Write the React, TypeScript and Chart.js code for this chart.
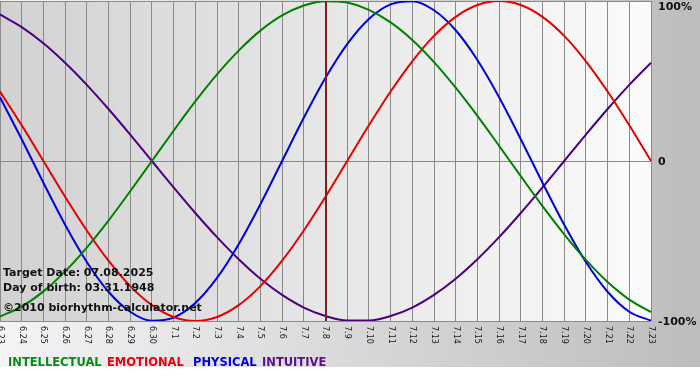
import { useEffect, useRef } from "react";
import { Chart, registerables } from "chart.js";

Chart.register(...registerables);

const dates = [
  "6.23", "6.24", "6.25", "6.26", "6.27", "6.28", "6.29", "6.30",
  "7.1", "7.2", "7.3", "7.4", "7.5", "7.6", "7.7", "7.8", "7.9", "7.10",
  "7.11", "7.12", "7.13", "7.14", "7.15", "7.16", "7.17", "7.18", "7.19",
  "7.20", "7.21", "7.22", "7.23",
];

const intellectual = [
  -97.2, -91.0, -81.5, -69.0, -54.1, -37.2, -18.9, 0, 18.9, 37.2, 54.1,
  69.0, 81.5, 91.0, 97.2, 99.9, 99.0, 94.5, 86.6, 75.6, 61.8, 45.8, 28.2,
  9.5, -9.5, -28.2, -45.8, -61.8, -75.6, -86.6, -94.5,
];
const emotional = [
  43.4, 22.3, 0, -22.3, -43.4, -62.3, -78.2, -90.1, -97.5, -100, -97.5,
  -90.1, -78.2, -62.3, -43.4, -22.3, 0, 22.3, 43.4, 62.3, 78.2, 90.1, 97.5,
  100, 97.5, 90.1, 78.2, 62.3, 43.4, 22.3, 0,
];
const physical = [
  39.8, 13.6, -13.6, -39.8, -63.1, -81.7, -94.2, -99.8, -97.9, -88.8, -73.1,
  -52.0, -27.0, 0, 27.0, 52.0, 73.1, 88.8, 97.9, 99.8, 94.2, 81.7, 63.1,
  39.8, 13.6, -13.6, -39.8, -63.1, -81.7, -94.2, -99.8,
];
const intuitive = [
  91.6, 83.7, 73.6, 61.4, 47.6, 32.5, 16.5, 0, -16.5, -32.5, -47.6, -61.4,
  -73.6, -83.7, -91.6, -96.9, -99.7, -99.7, -96.9, -91.6, -83.7, -73.6,
  -61.4, -47.6, -32.5, -16.5, 0, 16.5, 32.5, 47.6, 61.4,
];

const yTicks = [-100, 0, 100];
const targetDate = "7.8";
const infoLines = [
  "Target Date: 07.08.2025",
  "Day of birth: 03.31.1948",
  "\u00a92010 biorhythm-calculator.net",
];
const seriesNames = ["INTELLECTUAL", "EMOTIONAL", "PHYSICAL", "INTUITIVE"];
const lineColors = ["#008000", "#e60000", "#0000e0", "#4b0082"];
const legendColors = ["#0a8a1a", "#ee0010", "#0000dd", "#5a108a"];

export default function App() {
  const ref = useRef<HTMLCanvasElement>(null);

  useEffect(() => {
    document.body.style.margin = "0";
    const canvas = ref.current;
    if (!canvas) return;

    const bgPlugin = {
      id: "bgPlugin",
      beforeDraw(chart: any) {
        const { ctx, width, height, chartArea: a } = chart;
        ctx.save();
        ctx.fillStyle = "#ffffff";
        ctx.fillRect(0, 0, width, height);
        const g = ctx.createLinearGradient(0, 0, width, 0);
        g.addColorStop(0, "#f4f4f4");
        g.addColorStop(1, "#bdbdbd");
        ctx.fillStyle = g;
        ctx.fillRect(0, 0, width, 367);
        const g2 = ctx.createLinearGradient(a.left, 0, a.right, 0);
        g2.addColorStop(0, "#d2d2d2");
        g2.addColorStop(1, "#fbfbfb");
        ctx.fillStyle = g2;
        ctx.fillRect(a.left, a.top, a.right - a.left, a.bottom - a.top);
        ctx.restore();
      },
    };

    const overlayPlugin = {
      id: "overlayPlugin",
      afterDatasetsDraw(chart: any) {
        const { ctx, chartArea: a } = chart;
        const xs = chart.scales.x;
        const idx = dates.indexOf(targetDate);
        const x = Math.round(xs.getPixelForValue(idx));
        ctx.save();
        ctx.strokeStyle = "#7e1f1f";
        ctx.lineWidth = 2;
        ctx.beginPath();
        ctx.moveTo(x, a.top);
        ctx.lineTo(x, a.bottom);
        ctx.stroke();
        ctx.restore();
      },
      afterDraw(chart: any) {
        const { ctx, chartArea: a } = chart;
        const xs = chart.scales.x;
        const ys = chart.scales.y;
        ctx.save();
        // x labels, rotated clockwise
        ctx.font = "8px 'DejaVu Sans'";
        ctx.fillStyle = "#1a1a1a";
        ctx.textAlign = "left";
        ctx.textBaseline = "middle";
        dates.forEach((d, i) => {
          const px = xs.getPixelForValue(i);
          ctx.save();
          ctx.translate(px, a.bottom + 5);
          ctx.rotate(Math.PI / 2);
          ctx.fillText(d, 0, 0);
          ctx.restore();
        });
        // y labels on the right
        ctx.font = "bold 11px 'DejaVu Sans'";
        ctx.fillStyle = "#111111";
        ctx.textBaseline = "middle";
        yTicks.forEach((v) => {
          const py = Math.max(ys.getPixelForValue(v) + 1, 7);
          const label = v === 0 ? "0" : v + "%";
          ctx.fillText(label, a.right + 7, py);
        });
        // info text
        ctx.font = "bold 11px 'DejaVu Sans'";
        ctx.fillStyle = "#111111";
        ctx.textBaseline = "alphabetic";
        const infoY = [276, 291, 311];
        infoLines.forEach((t, i) => ctx.fillText(t, a.left + 3, infoY[i]));
        // legend
        ctx.font = "bold 11.5px 'DejaVu Sans'";
        const legendX = [8, 107, 193, 262];
        seriesNames.forEach((n, i) => {
          ctx.fillStyle = legendColors[i];
          ctx.fillText(n, legendX[i], 366);
        });
        ctx.restore();
      },
    };

    const series = [intellectual, emotional, physical, intuitive];
    const chart = new Chart(canvas, {
      type: "line",
      data: {
        labels: dates,
        datasets: series.map((s, i) => ({
          label: seriesNames[i],
          data: s,
          borderColor: lineColors[i],
          backgroundColor: lineColors[i],
          borderWidth: 2,
          pointRadius: 0,
          cubicInterpolationMode: "monotone" as const,
          fill: false,
        })),
      },
      options: {
        animation: false,
        responsive: false,
        maintainAspectRatio: false,
        layout: { padding: { left: 0, right: 49, top: 1, bottom: 59 } },
        plugins: {
          legend: { display: false },
          tooltip: { enabled: false },
        },
        scales: {
          x: {
            grid: { color: "#8a8a8a", drawTicks: false, lineWidth: 1 },
            border: { display: false },
            ticks: { display: false },
          },
          y: {
            position: "right",
            min: -100,
            max: 100,
            afterBuildTicks: (scale: any) => {
              scale.ticks = yTicks.map((v) => ({ value: v }));
            },
            ticks: { display: false },
            grid: { color: "#8a8a8a", drawTicks: false, lineWidth: 1 },
            border: { display: false },
          },
        },
      },
      plugins: [bgPlugin, overlayPlugin],
    });
    return () => chart.destroy();
  }, []);

  return (
    <div style={{ position: "absolute", left: 0, top: 0, width: 700, height: 380 }}>
      <canvas ref={ref} width={700} height={380} style={{ width: 700, height: 380, display: "block" }} />
    </div>
  );
}
